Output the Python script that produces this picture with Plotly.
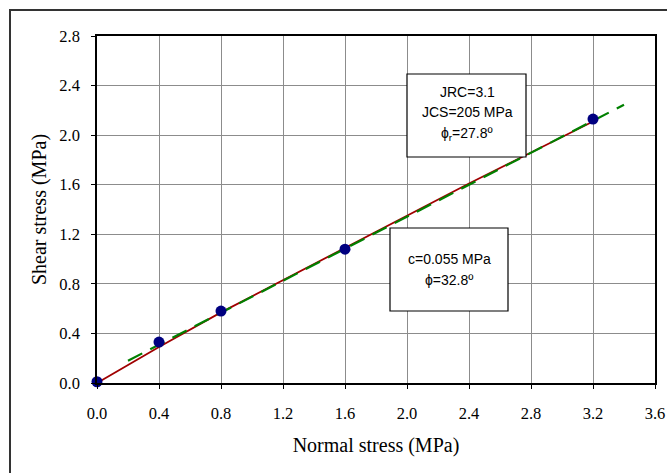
import plotly.graph_objects as go

# Measured data points
normal_stress = [0.0, 0.4, 0.8, 1.6, 3.2]
shear_stress = [0.01, 0.33, 0.58, 1.08, 2.13]

# Barton (JRC-JCS) curve
barton_x = [0.0, 0.4, 0.8, 1.2, 1.6, 2.0, 2.4, 2.8, 3.2]
barton_y = [0.0, 0.29, 0.57, 0.83, 1.09, 1.35, 1.61, 1.86, 2.11]

# Mohr-Coulomb linear fit
mc_x = [0.2, 3.4]
mc_y = [0.18, 2.245]

x_ticks = [0.0, 0.4, 0.8, 1.2, 1.6, 2.0, 2.4, 2.8, 3.2, 3.6]
y_ticks = [0.0, 0.4, 0.8, 1.2, 1.6, 2.0, 2.4, 2.8]

fig = go.Figure()
fig.add_trace(go.Scatter(x=barton_x, y=barton_y, mode="lines",
                         line=dict(color="#A00000", width=1.8), showlegend=False))
fig.add_trace(go.Scatter(x=mc_x, y=mc_y, mode="lines",
                         line=dict(color="#008000", width=2.2, dash="16px,9px"), showlegend=False))
fig.add_trace(go.Scatter(x=normal_stress, y=shear_stress, mode="markers",
                         marker=dict(color="#000080", size=11), showlegend=False,
                         cliponaxis=False))

W, H = 667, 473
L, R, T, B = 97, 12, 36, 90
pw, ph = W - L - R, H - T - B

def px(x):
    return (x - L) / pw

def py(y):
    return (H - B - y) / ph

tick_font = dict(family="Liberation Serif", size=16.5, color="black")
axis_common = dict(showgrid=True, gridcolor="#8c8c8c", gridwidth=1,
                   showline=True, linecolor="black", linewidth=1.5, mirror=True,
                   ticks="outside", ticklen=4, tickcolor="black", tickwidth=1,
                   zeroline=False, tickfont=tick_font, automargin=False)

fig.update_layout(
    width=W, height=H,
    margin=dict(l=L, r=R, t=T, b=B),
    paper_bgcolor="white", plot_bgcolor="white",
    xaxis=dict(range=[0, 3.6], tickvals=x_ticks, ticktext=[f"{v:.1f}" for v in x_ticks],
               title=dict(text="Normal stress (MPa)", font=dict(family="Liberation Serif", size=20, color="black"), standoff=16),
               ticklabelstandoff=10, **axis_common),
    yaxis=dict(range=[0, 2.8], tickvals=y_ticks, ticktext=[f"{v:.1f}" for v in y_ticks],
               title=dict(text="Shear stress (MPa)", font=dict(family="Liberation Serif", size=20, color="black"), standoff=7),
               ticklabelstandoff=8, **axis_common),
)

# outer chart border (top and left visible, rest outside the picture)
fig.add_shape(type="rect", xref="paper", yref="paper",
              x0=px(10), x1=px(680), y0=py(490), y1=py(10),
              line=dict(color="#333333", width=2), fillcolor="rgba(0,0,0,0)", layer="below")

# text boxes
fig.add_shape(type="rect", xref="paper", yref="paper",
              x0=px(407), x1=px(526), y0=py(157), y1=py(74),
              line=dict(color="black", width=1.2), fillcolor="white")
fig.add_shape(type="rect", xref="paper", yref="paper",
              x0=px(390), x1=px(508), y0=py(311), y1=py(228),
              line=dict(color="black", width=1.2), fillcolor="white")

ann_font = dict(family="Liberation Sans", size=14, color="black")
labels = [
    ("JRC=3.1", 467, 92),
    ("JCS=205 MPa", 467, 112),
    ("ϕ<sub>r</sub>=27.8º", 467, 134),
    ("c=0.055 MPa", 449, 259),
    ("ϕ=32.8º", 449, 280),
]
for text, x, y in labels:
    fig.add_annotation(text=text, xref="paper", yref="paper", x=px(x), y=py(y),
                       showarrow=False, font=ann_font, xanchor="center", yanchor="middle")

fig.write_html("out.html")
